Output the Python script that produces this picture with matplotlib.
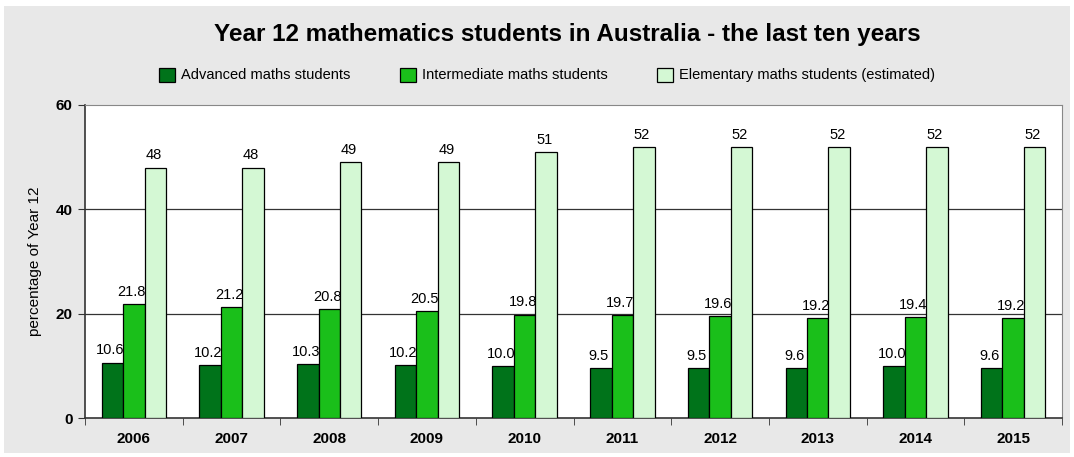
import matplotlib.pyplot as plt
import numpy as np
from matplotlib.patches import Rectangle

years = ['2006', '2007', '2008', '2009', '2010', '2011', '2012', '2013', '2014', '2015']
advanced = [10.6, 10.2, 10.3, 10.2, 10.0, 9.5, 9.5, 9.6, 10.0, 9.6]
intermediate = [21.8, 21.2, 20.8, 20.5, 19.8, 19.7, 19.6, 19.2, 19.4, 19.2]
elementary = [48, 48, 49, 49, 51, 52, 52, 52, 52, 52]

series_names = ['Advanced maths students', 'Intermediate maths students',
                'Elementary maths students (estimated)']
colors = ['#00731a', '#1abf1a', '#d4f8d4']

NARROW = ['Liberation Sans Narrow', 'Liberation Sans', 'DejaVu Sans']
BOLD = ['Liberation Sans', 'DejaVu Sans']

fig = plt.figure(figsize=(10.74, 4.57), dpi=100)
fig.patch.set_facecolor('white')
fig.patches.append(Rectangle((4 / 1074, 4 / 457), 1066 / 1074, 447 / 457,
                             transform=fig.transFigure, facecolor='#e8e8e8',
                             edgecolor='none', zorder=-1))

ax = fig.add_axes([85 / 1074, 1 - 418 / 457, 977 / 1074, 313 / 457])
ax.set_facecolor('white')

x = np.arange(len(years))
w = 0.22
bars = []
for i, (vals, col) in enumerate(zip([advanced, intermediate, elementary], colors)):
    b = ax.bar(x + (i - 1) * w, vals, w, color=col, edgecolor='black',
               linewidth=0.9, zorder=3, label=series_names[i])
    bars.append(b)
    for xi, v in zip(x + (i - 1) * w, vals):
        txt = f'{v:.0f}' if i == 2 else f'{v:.1f}'
        ax.text(xi - 0.02, v + 1.0, txt, ha='center', va='bottom', fontsize=10.5,
                family=NARROW, zorder=4)

ax.set_xlim(-0.5, len(years) - 0.5)
ax.set_ylim(0, 60)
ax.set_yticks([0, 20, 40, 60])
ax.set_yticklabels(['0', '20', '40', '60'], fontsize=11, fontweight='bold', family=BOLD)
ax.set_xticks(x)
ax.set_xticklabels(years, fontsize=11, fontweight='bold', family=BOLD)
ax.tick_params(axis='x', length=0, pad=10)
ax.set_xticks(np.arange(len(years) + 1) - 0.5, minor=True)
ax.tick_params(axis='x', which='minor', length=5, direction='out', color='#333333')
ax.tick_params(axis='y', length=5, direction='out', color='#333333', pad=4)

for yv in [20, 40]:
    ax.axhline(yv, color='#333333', linewidth=0.9, zorder=1)

ax.spines['top'].set_color('#888888')
ax.spines['right'].set_color('#888888')
ax.spines['left'].set_color('#333333')
ax.spines['bottom'].set_color('#333333')
ax.spines['left'].set_linewidth(1.2)
ax.spines['bottom'].set_linewidth(1.2)

ax.set_ylabel('percentage of Year 12', fontsize=11, family=NARROW, labelpad=10)

fig.text(567 / 1074, 1 - 35 / 457, 'Year 12 mathematics students in Australia - the last ten years',
         ha='center', va='center', fontsize=17.5, fontweight='bold', family=BOLD)

fig.legend(handles=bars, labels=series_names, loc='center',
           bbox_to_anchor=(547 / 1074, 1 - 75 / 457), ncol=3, frameon=False,
           prop={'family': NARROW, 'size': 10.5}, handlelength=1.1,
           handleheight=1.1, columnspacing=3.4, handletextpad=0.4)

plt.savefig('out.png', dpi=100, facecolor=fig.get_facecolor())
